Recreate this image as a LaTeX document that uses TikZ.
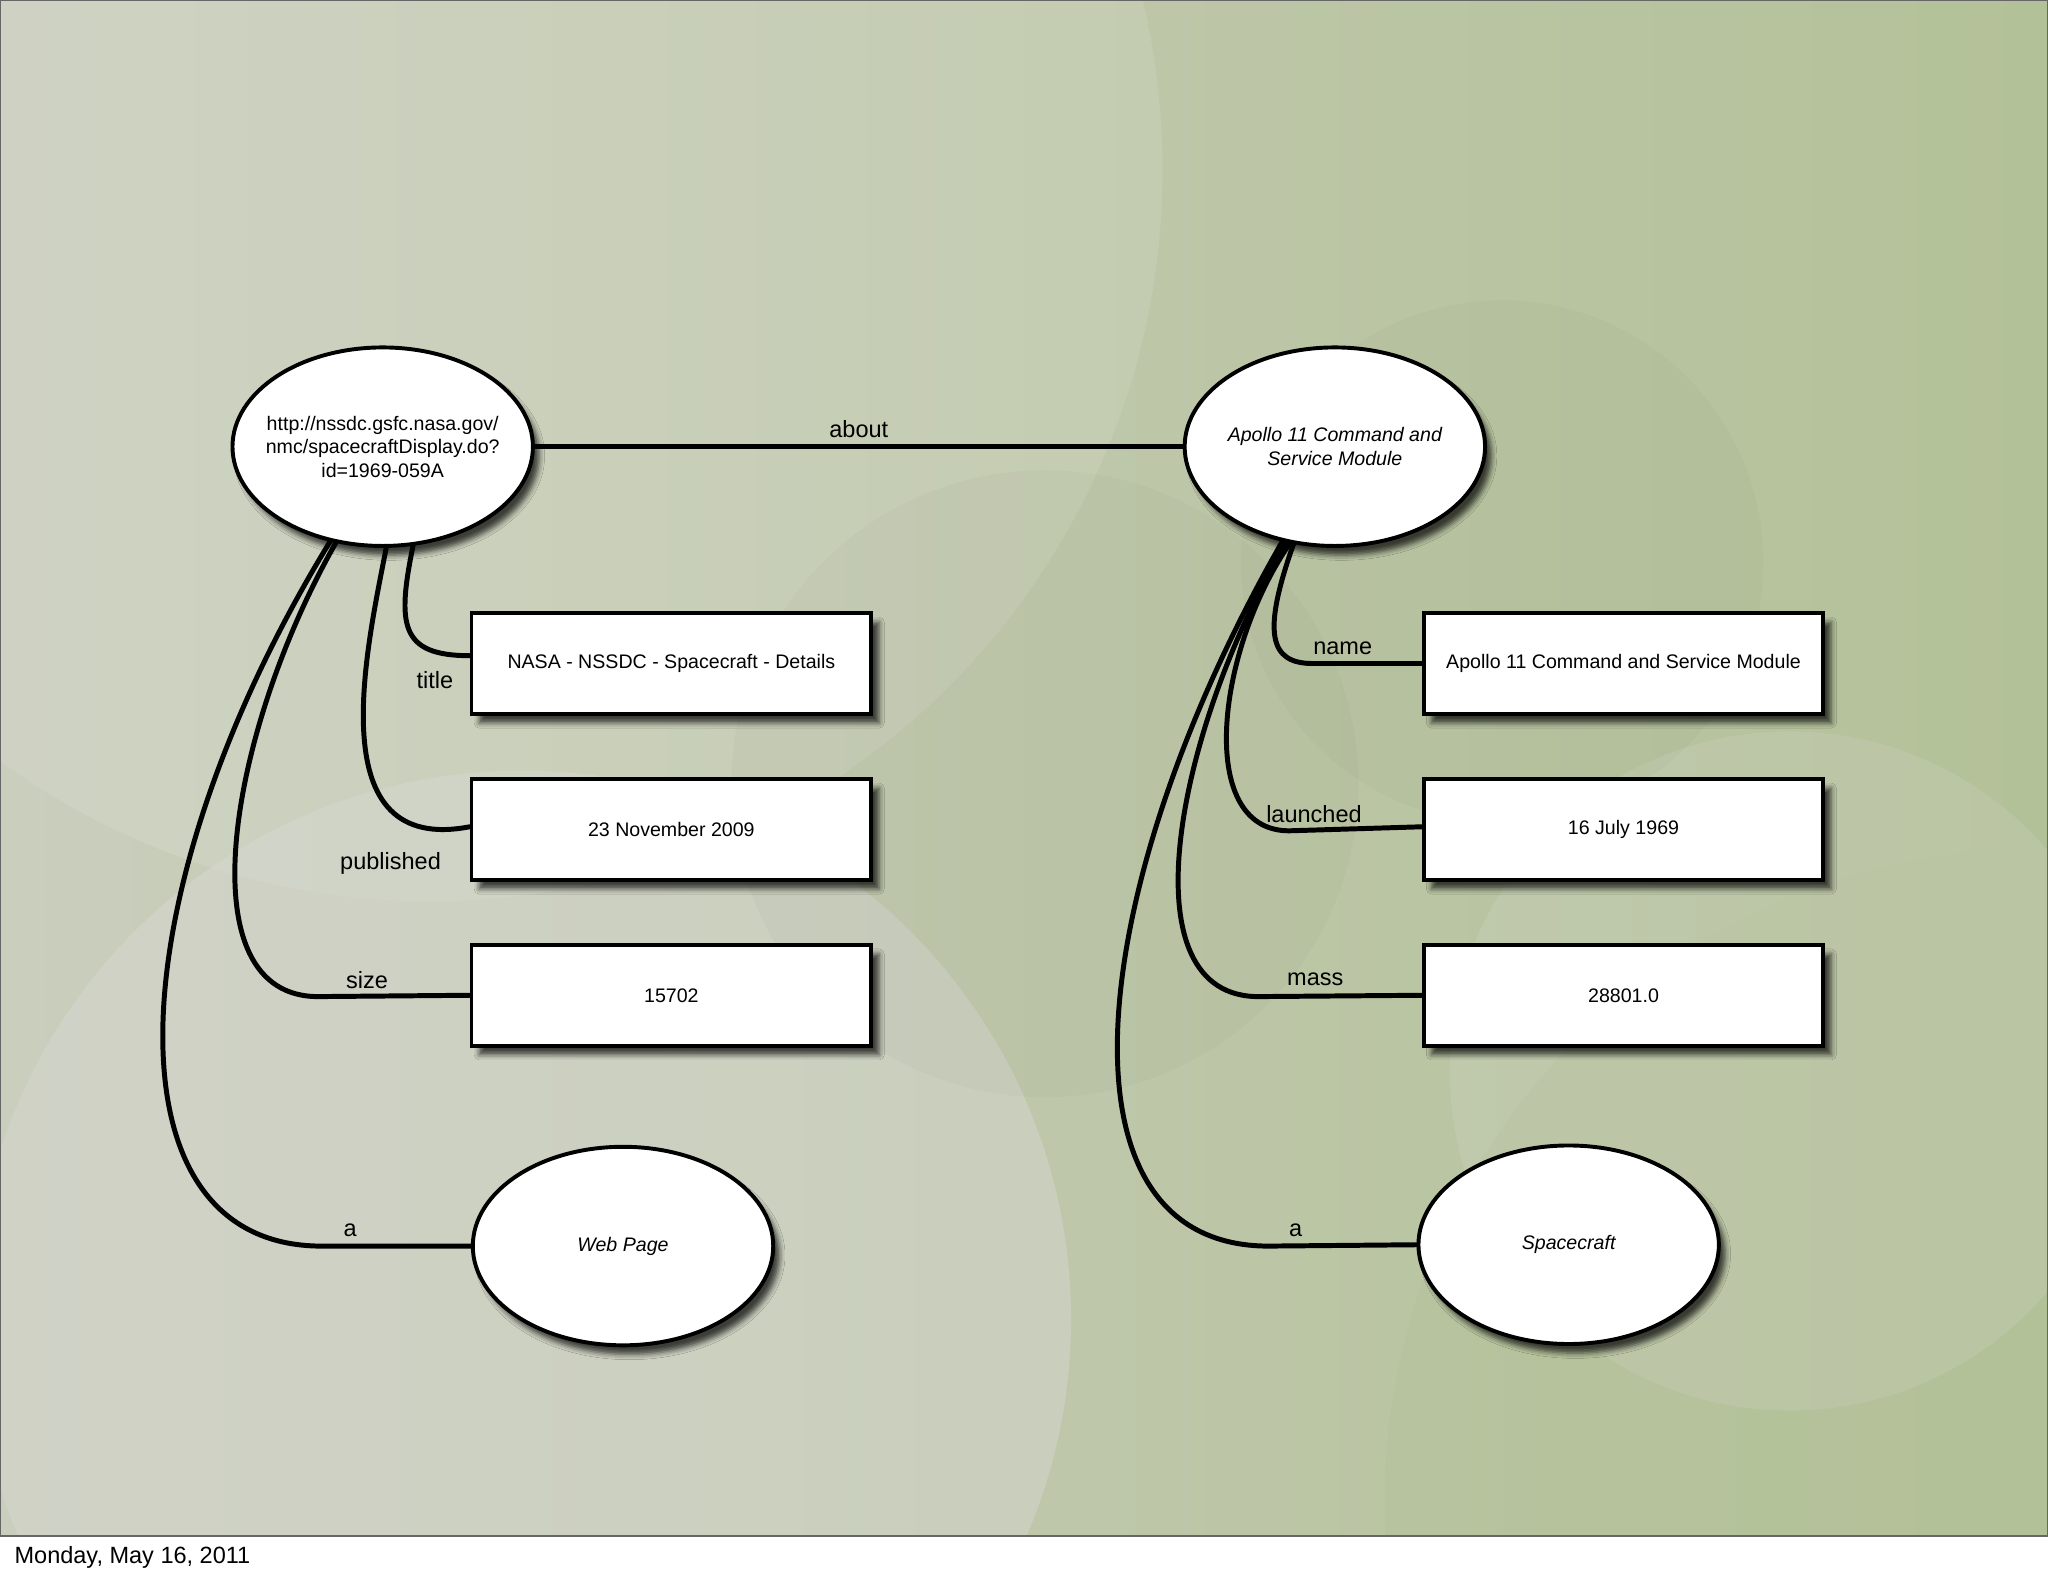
\documentclass[tikz,border=0pt]{standalone}
\usepackage{fontspec}
\setmainfont{Liberation Sans}
\usetikzlibrary{shapes.geometric}
\usetikzlibrary{shadows.blur}
\usetikzlibrary{positioning}
\definecolor{slidegray}{HTML}{CACEBD}
\definecolor{slidegreen}{HTML}{B3C198}
\definecolor{slidelight}{HTML}{D8D9D3}
\tikzset{%
  rdfedge/.style={line width=3.8pt, line cap=round},
  resnode/.style={ellipse, draw=black, line width=3pt, fill=white, minimum width=230pt,
    minimum height=152pt, inner sep=-20pt, align=center, font=\fontsize{15}{18}\selectfont,
    blur shadow={shadow xshift=5pt, shadow yshift=-7pt, shadow blur radius=4pt, shadow opacity=70}},
  litnode/.style={rectangle, draw=black, line width=3pt, fill=white, minimum width=306pt,
    minimum height=77pt, font=\fontsize{15}{18}\selectfont,
    blur shadow={shadow xshift=6pt, shadow yshift=-7pt, shadow blur radius=4pt, shadow opacity=70}},
  proplabel/.style={font=\fontsize{18}{21}\selectfont, inner sep=1pt}
}

\begin{document}
\begin{tikzpicture}[x=1pt, y=-1pt]
  \useasboundingbox (0,0) rectangle (1568,1207);
  % slide background
  \begin{scope}
    \clip (0,0) rectangle (1568,1176);
    \shade[left color=slidegray, right color=slidegreen] (0,0) rectangle (1568,1176);
    \fill[white, opacity=.1] (330,130) circle (560pt);
    \fill[slidelight, opacity=.45] (400,1010) circle (420pt);
    \fill[slidegreen, opacity=.45] (1560,1150) circle (500pt);
    \fill[slidelight, opacity=.2] (1370,820) circle (260pt);
    \fill[black, opacity=.02] (800,600) circle (240pt);
    \fill[black, opacity=.02] (1150,430) circle (200pt);
  \end{scope}
  \draw[black!60, line width=1.2pt] (0,0) rectangle (1568,1176);

  % resources
  \node[resnode] (doc) at (293,342) {http://nssdc.gsfc.nasa.gov/\\nmc/spacecraftDisplay.do?\\id=1969-059A};
  \node[resnode] (cmod) at (1022,342) {\itshape Apollo 11 Command and\\\itshape Service Module};
  \node[resnode] (webpage) at (477,954) {\itshape Web Page};
  \node[resnode] (craft) at (1201,953) {\itshape Spacecraft};

  % literals
  \node[litnode] (title) at (514,508) {NASA - NSSDC - Spacecraft - Details};
  \node[litnode, below=47pt of title] (published) {23 November 2009};
  \node[litnode, below=47pt of published] (size) {15702};
  \node[litnode, right=420pt of title] (name) {Apollo 11 Command and Service Module};
  \node[litnode, below=47pt of name] (launched) {16 July 1969};
  \node[litnode, below=47pt of launched] (mass) {28801.0};

  % properties of the page
  \draw[rdfedge] (doc) -- (cmod) node[proplabel, midway, above=4pt] (about-lbl) {about};
  \draw[rdfedge] (doc.-73) .. controls (304,478) and (306,502) .. ([yshift=6pt]title.west);
  \draw[rdfedge] (doc.-88) .. controls (280,500) and (245,655) .. ([yshift=2pt]published.west);
  \draw[rdfedge] (doc.-116) .. controls (175,560) and (140,765) .. (245,763) -- (size.west);
  \draw[rdfedge] (doc.-119) .. controls (90,680) and (75,958) .. (250,954) -- (webpage.west);
  \node[proplabel] (title-lbl) at (333,521) {title};
  \node[proplabel] (published-lbl) at (299,661) {published};
  \node[proplabel] (size-lbl) at (281,750) {size};
  \node[proplabel] (type-lbl) at (268,942) {a};

  % properties of the module
  \draw[rdfedge] (cmod.-113) .. controls (966,485) and (972,508) .. (1005,508) -- (name.west);
  \draw[rdfedge] (cmod.-115) .. controls (930,500) and (915,640) .. (990,636) -- ([yshift=2pt]launched.west);
  \draw[rdfedge] (cmod.-117) .. controls (900,560) and (860,765) .. (965,763) -- (mass.west);
  \draw[rdfedge] (cmod.-119) .. controls (830,680) and (800,958) .. (975,954) -- (craft.west);
  \node[proplabel] (name-lbl) at (1028,496) {name};
  \node[proplabel] (launched-lbl) at (1006,623) {launched};
  \node[proplabel] (mass-lbl) at (1007,750) {mass};
  \node[proplabel] (type2-lbl) at (992,942) {a};

  \node[proplabel, anchor=base west] (date) at (10,1197) {Monday, May 16, 2011};
\end{tikzpicture}
\end{document}
